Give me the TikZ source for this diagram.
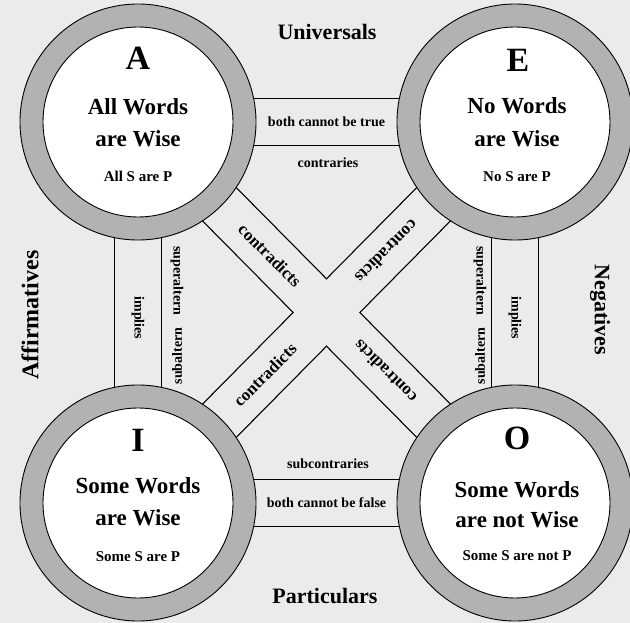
\documentclass[tikz,border=0pt]{standalone}
\usepackage{fontspec}
\setmainfont{Liberation Serif}
\usetikzlibrary{positioning}
\definecolor{paper}{gray}{0.92}
\definecolor{ringgrey}{gray}{0.70}

\begin{document}
\begin{tikzpicture}[x=1pt, y=1pt]
    % Styles
    \tikzstyle{bandedge} = [line width=48.5pt, draw=black]
    \tikzstyle{bandfill} = [line width=46pt, draw=paper]
    \tikzstyle{ringnode} = [circle, draw, line width=0.9pt, fill=ringgrey,
        minimum size=236pt, inner sep=0pt]
    \tikzstyle{corenode} = [circle, draw, line width=0.9pt, fill=white,
        minimum size=190pt, inner sep=0pt]
    \tikzstyle{letter} = [text=black, font=\bfseries\fontsize{34}{34}\selectfont]
    \tikzstyle{claim} = [text=black, font=\bfseries\fontsize{23}{23}\selectfont]
    \tikzstyle{formula} = [text=black, font=\bfseries\fontsize{15}{15}\selectfont]
    \tikzstyle{relation} = [text=black, font=\bfseries\fontsize{14}{14}\selectfont]
    \tikzstyle{crossing} = [text=black, font=\bfseries\fontsize{17}{17}\selectfont, inner sep=1pt]
    \tikzstyle{heading} = [text=black, font=\bfseries\fontsize{22}{22}\selectfont]

    % Paper
    \useasboundingbox (0,0) rectangle (630,-623);
    \fill[paper] (0,0) rectangle (630,-623);

    % Corners of the square
    \coordinate (A) at (138,-122);
    \coordinate (E) at (515,-122);
    \coordinate (I) at (138,-503);
    \coordinate (O) at (515,-503);

    % === BANDS: outlines ===
    \draw [bandedge] (A) -- (E);
    \draw [bandedge] (I) -- (O);
    \draw [bandedge] (A) -- (I);
    \draw [bandedge] (E) -- (O);
    \draw [bandedge] (A) -- (O);
    \draw [bandedge] (E) -- (I);

    % === BANDS: insides and their texts ===
    \draw [bandfill] (A) -- node[relation] (cannottrue) {both cannot be true} (E);
    \draw [bandfill] (I) -- node[relation] (cannotfalse) {both cannot be false} (O);
    \draw [bandfill] (A) -- node[relation, pos=0.514, rotate=-90] (impliesleft) {implies} (I);
    \draw [bandfill] (E) -- node[relation, pos=0.514, rotate=-90] (impliesright) {implies} (O);
    \draw [bandfill] (A) -- node[crossing, pos=0.35, rotate=-45] (contrAO) {contradicts}
        node[crossing, pos=0.655, rotate=135] (contrOA) {contradicts} (O);
    \draw [bandfill] (E) -- node[crossing, pos=0.34, rotate=225] (contrEI) {contradicts}
        node[crossing, pos=0.663, rotate=45] (contrIE) {contradicts} (I);

    % Texts beside the bands
    \node [relation] (contraries) at (328,-163) {contraries};
    \node [relation] (subcontraries) at (328,-464) {subcontraries};
    \node [relation, rotate=-90] (superleft) at (177,-281) {superaltern};
    \node [relation, rotate=90] (subleft) at (177,-356) {subaltern};
    \node [relation, rotate=-90] (superright) at (480,-281) {superaltern};
    \node [relation, rotate=90] (subright) at (480,-356) {subaltern};

    % Headings
    \node [heading] (universals) at (327,-32) {Universals};
    \node [heading] (particulars) at (325,-596) {Particulars};
    \node [heading, rotate=90, font=\bfseries\fontsize{24}{24}\selectfont] (affirmatives) at (30,-315) {Affirmatives};
    \node [heading, rotate=-90] (negatives) at (600,-310) {Negatives};

    % === CIRCLES ===
    % A
    \node [ringnode] (Aring) at (A) {};
    \node [corenode] (Acore) at (A) {};
    \node [letter] (Aname) at ([yshift=64pt]A) {A};
    \node [claim] (Aline1) at ([yshift=15pt]A) {All Words};
    \node [claim] (Aline2) at ([yshift=-17pt]A) {are Wise};
    \node [formula] (Aform) at ([yshift=-54pt]A) {All S are P};

    % E
    \node [ringnode] (Ering) at (E) {};
    \node [corenode] (Ecore) at (E) {};
    \node [letter] (Ename) at ([yshift=62pt, xshift=3pt]E) {E};
    \node [claim] (Eline1) at ([yshift=16pt, xshift=2pt]E) {No Words};
    \node [claim] (Eline2) at ([yshift=-17pt, xshift=2pt]E) {are Wise};
    \node [formula] (Eform) at ([yshift=-55pt, xshift=2pt]E) {No S are P};

    % I
    \node [ringnode] (Iring) at (I) {};
    \node [corenode] (Icore) at (I) {};
    \node [letter] (Iname) at ([yshift=63pt]I) {I};
    \node [claim] (Iline1) at ([yshift=17pt]I) {Some Words};
    \node [claim] (Iline2) at ([yshift=-15pt]I) {are Wise};
    \node [formula] (Iform) at ([yshift=-54pt]I) {Some S are P};

    % O
    \node [ringnode] (Oring) at (O) {};
    \node [corenode] (Ocore) at (O) {};
    \node [letter] (Oname) at ([yshift=65pt, xshift=2pt]O) {O};
    \node [claim] (Oline1) at ([yshift=13pt, xshift=2pt]O) {Some Words};
    \node [claim] (Oline2) at ([yshift=-17pt, xshift=2pt]O) {are not Wise};
    \node [formula] (Oform) at ([yshift=-53pt, xshift=2pt]O) {Some S are not P};

\end{tikzpicture}
\end{document}
